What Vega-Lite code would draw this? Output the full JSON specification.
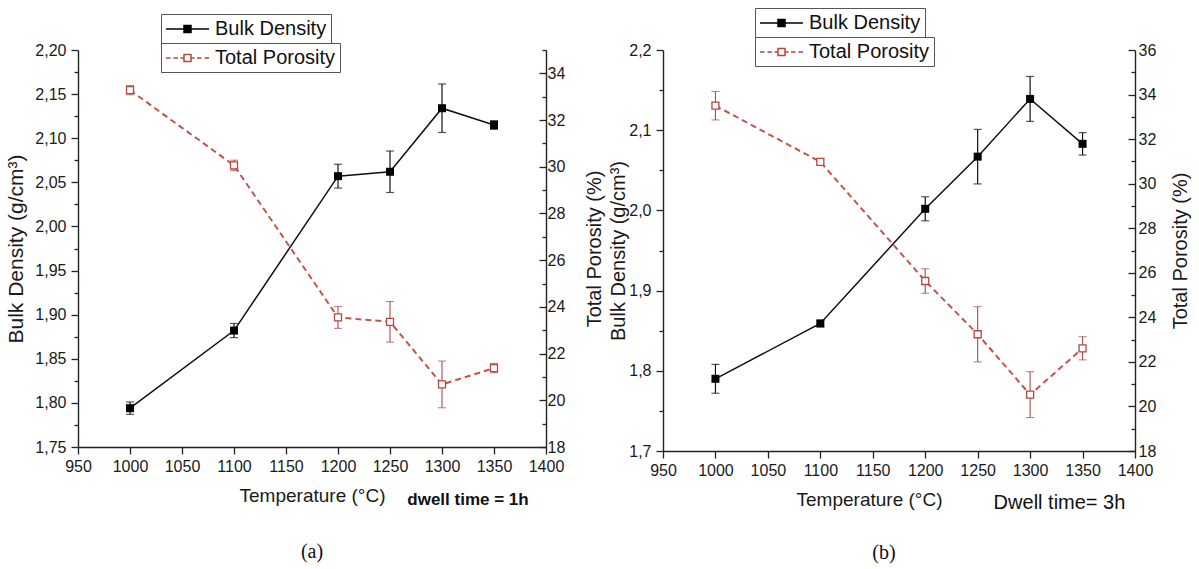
{
  "$schema": "https://vega.github.io/schema/vega-lite/v6.json",
  "padding": {"left": 5, "top": 7, "right": 3, "bottom": 5},
  "background": "white",
  "spacing": 3,
  "config": {
    "view": {"stroke": null},
    "axis": {"grid": false, "domainColor": "#222", "domainWidth": 1.4, "tickColor": "#222", "tickWidth": 1.3, "labelFont": "Liberation Sans", "titleFont": "Liberation Sans", "titleFontWeight": "normal", "labelColor": "#1a1a1a", "titleColor": "#1a1a1a", "labelOverlap": false, "labelBound": false, "labelFlush": false},
    "legend": {"labelFont": "Liberation Sans", "labelColor": "#111"}
  },
  "datasets": {
    "a": [
      {"T": 1000, "bd": 1.794, "bdErr": 0.007, "tp": 33.28, "tpErr": 0.2},
      {"T": 1100, "bd": 1.882, "bdErr": 0.008, "tp": 30.06, "tpErr": 0.22},
      {"T": 1200, "bd": 2.057, "bdErr": 0.0135, "tp": 23.55, "tpErr": 0.47},
      {"T": 1250, "bd": 2.062, "bdErr": 0.0235, "tp": 23.36, "tpErr": 0.87},
      {"T": 1300, "bd": 2.134, "bdErr": 0.0275, "tp": 20.68, "tpErr": 1.0},
      {"T": 1350, "bd": 2.115, "bdErr": 0.005, "tp": 21.38, "tpErr": 0.2}
    ],
    "b": [
      {"T": 1000, "bd": 1.79, "bdErr": 0.018, "tp": 33.5, "tpErr": 0.64},
      {"T": 1100, "bd": 1.859, "bdErr": 0.004, "tp": 30.98, "tpErr": 0.15},
      {"T": 1200, "bd": 2.002, "bdErr": 0.015, "tp": 25.63, "tpErr": 0.55},
      {"T": 1250, "bd": 2.067, "bdErr": 0.034, "tp": 23.24, "tpErr": 1.24},
      {"T": 1300, "bd": 2.139, "bdErr": 0.028, "tp": 20.53, "tpErr": 1.03},
      {"T": 1350, "bd": 2.083, "bdErr": 0.014, "tp": 22.61, "tpErr": 0.52}
    ],
    "noteA": [{"note": "dwell time = 1h"}],
    "noteB": [{"note": "Dwell time= 3h"}]
  },
  "hconcat": [
    {
      "width": 468,
      "height": 397,
      "data": {"name": "a"},
      "title": {"text": "(a)", "orient": "bottom", "frame": "group", "anchor": "middle", "font": "Liberation Serif", "fontSize": 20, "fontWeight": "normal", "color": "#111", "offset": 34},
      "layer": [
        {
          "encoding": {
            "x": {"field": "T", "type": "quantitative", "scale": {"domain": [950, 1400], "nice": false, "zero": false},
              "axis": {"values": [950,975,1000,1025,1050,1075,1100,1125,1150,1175,1200,1225,1250,1275,1300,1325,1350,1375,1400], "format": "d",
                "labelExpr": "datum.value % 50 == 0 ? datum.label : ''",
                "tickSize": {"condition": {"test": "datum.value % 50 == 0", "value": 7}, "value": 4},
                "labelFontSize": 16, "labelPadding": 4, "title": "Temperature (°C)", "titleFontSize": 19, "titlePadding": 12}},
            "y": {"field": "bd", "type": "quantitative", "scale": {"domain": [1.75, 2.2], "nice": false, "zero": false},
              "axis": {"values": [1.75,1.775,1.8,1.825,1.85,1.875,1.9,1.925,1.95,1.975,2.0,2.025,2.05,2.075,2.1,2.125,2.15,2.175,2.2],
                "labelExpr": "round(datum.value*1000) % 50 == 0 ? replace(format(datum.value, '.2f'), '.', ',') : ''",
                "tickSize": {"condition": {"test": "round(datum.value*1000) % 50 == 0", "value": 7}, "value": 4},
                "labelFontSize": 16, "labelPadding": 5, "title": "Bulk Density (g/cm³)", "titleFontSize": 21, "titlePadding": 8}}
          },
          "layer": [
            {"mark": {"type": "errorbar", "color": "#111", "thickness": 1.2, "ticks": {"size": 8, "thickness": 1.2}}, "encoding": {"yError": {"field": "bdErr"}}},
            {"mark": {"type": "line", "color": "#111", "strokeWidth": 1.5}},
            {"mark": {"type": "point", "shape": "square", "filled": true, "size": 64, "opacity": 1},
              "encoding": {"color": {"datum": "Bulk Density", "scale": {"range": ["#000000"]},
                "legend": {"title": null, "orient": "none", "legendX": 83, "legendY": -36, "symbolType": "M-1,0H0.8M1.5,0H3.3M0.8,-0.35H1.5V0.35H0.8Z", "symbolSize": 400, "symbolStrokeWidth": 1.5, "symbolStrokeColor": "#000000", "symbolFillColor": "#000000", "labelOffset": 28, "labelFontSize": 20, "strokeColor": "#555", "fillColor": "white", "padding": 4}}}}
          ]
        },
        {
          "encoding": {
            "x": {"field": "T", "type": "quantitative"},
            "y": {"field": "tp", "type": "quantitative", "scale": {"domain": [18, 35], "nice": false, "zero": false},
              "axis": {"orient": "right", "values": [18,19,20,21,22,23,24,25,26,27,28,29,30,31,32,33,34,35],
                "labelExpr": "datum.value % 2 == 0 ? datum.label : ''",
                "tickSize": {"condition": {"test": "datum.value % 2 == 0", "value": -7}, "value": -4},
                "labelFontSize": 16, "labelPadding": 8, "title": "Total Porosity (%)", "titleFontSize": 20, "titleAngle": 270, "titleBaseline": "top", "titlePadding": 20}}
          },
          "layer": [
            {"mark": {"type": "errorbar", "color": "#a4504c", "thickness": 1.1, "ticks": {"size": 8, "thickness": 1.1}}, "encoding": {"yError": {"field": "tpErr"}}},
            {"mark": {"type": "line", "color": "#c4524a", "strokeWidth": 2, "strokeDash": [6, 4]}},
            {"mark": {"type": "point", "shape": "square", "filled": false, "fill": "white", "fillOpacity": 1, "size": 49, "strokeWidth": 1.3, "opacity": 1},
              "encoding": {"color": {"datum": "Total Porosity", "scale": {"range": ["#b5473f"]},
                "legend": {"title": null, "orient": "none", "legendX": 83, "legendY": -7, "symbolType": "M-1,0H-0.55M-0.25,0H0.2M0.45,0H0.8M0.8,-0.35H1.5V0.35H0.8ZM1.5,0H1.85M2.1,0H2.55M2.85,0H3.3", "symbolSize": 400, "symbolStrokeWidth": 1.5, "symbolStrokeColor": "#b5473f", "labelOffset": 28, "labelFontSize": 20, "strokeColor": "#555", "fillColor": "white", "padding": 4}}}}
          ]
        },
        {
          "data": {"name": "noteA"},
          "mark": {"type": "text", "clip": false, "font": "Liberation Sans", "fontWeight": "bold", "fontSize": 17, "align": "center", "baseline": "middle", "color": "#111"},
          "encoding": {
            "x": {"datum": 1325, "type": "quantitative"},
            "y": {"datum": 1.6904, "type": "quantitative", "scale": {"domain": [1.75, 2.2], "nice": false, "zero": false}, "axis": null},
            "text": {"field": "note", "type": "nominal"}
          }
        }
      ],
      "resolve": {"scale": {"y": "independent", "color": "independent"}}
    },
    {
      "width": 472,
      "height": 401,
      "data": {"name": "b"},
      "title": {"text": "(b)", "orient": "bottom", "frame": "group", "anchor": "middle", "dx": -15, "font": "Liberation Serif", "fontSize": 20, "fontWeight": "normal", "color": "#111", "offset": 30},
      "layer": [
        {
          "encoding": {
            "x": {"field": "T", "type": "quantitative", "scale": {"domain": [950, 1400], "nice": false, "zero": false},
              "axis": {"values": [950,975,1000,1025,1050,1075,1100,1125,1150,1175,1200,1225,1250,1275,1300,1325,1350,1375,1400], "format": "d",
                "labelExpr": "datum.value % 50 == 0 ? datum.label : ''",
                "tickSize": {"condition": {"test": "datum.value % 50 == 0", "value": 7}, "value": 4},
                "labelFontSize": 16, "labelPadding": 4, "title": "Temperature (°C)", "titleFontSize": 19, "titlePadding": 12, "titleX": 206}},
            "y": {"field": "bd", "type": "quantitative", "scale": {"domain": [1.7, 2.2], "nice": false, "zero": false},
              "axis": {"values": [1.7,1.75,1.8,1.85,1.9,1.95,2.0,2.05,2.1,2.15,2.2],
                "labelExpr": "round(datum.value*100) % 10 == 0 ? replace(format(datum.value, '.1f'), '.', ',') : ''",
                "tickSize": {"condition": {"test": "round(datum.value*100) % 10 == 0", "value": 7}, "value": 4},
                "labelFontSize": 16, "labelPadding": 5, "title": "Bulk Density (g/cm³)", "titleFontSize": 20, "titlePadding": 0}}
          },
          "layer": [
            {"mark": {"type": "errorbar", "color": "#111", "thickness": 1.2, "ticks": {"size": 8, "thickness": 1.2}}, "encoding": {"yError": {"field": "bdErr"}}},
            {"mark": {"type": "line", "color": "#111", "strokeWidth": 1.5}},
            {"mark": {"type": "point", "shape": "square", "filled": true, "size": 64, "opacity": 1},
              "encoding": {"color": {"datum": "Bulk Density", "scale": {"range": ["#000000"]},
                "legend": {"title": null, "orient": "none", "legendX": 92, "legendY": -42, "symbolType": "M-1,0H0.8M1.5,0H3.3M0.8,-0.35H1.5V0.35H0.8Z", "symbolSize": 400, "symbolStrokeWidth": 1.5, "symbolStrokeColor": "#000000", "symbolFillColor": "#000000", "labelOffset": 28, "labelFontSize": 20, "strokeColor": "#555", "fillColor": "white", "padding": 4}}}}
          ]
        },
        {
          "encoding": {
            "x": {"field": "T", "type": "quantitative"},
            "y": {"field": "tp", "type": "quantitative", "scale": {"domain": [18, 36], "nice": false, "zero": false},
              "axis": {"orient": "right", "values": [18,19,20,21,22,23,24,25,26,27,28,29,30,31,32,33,34,35,36],
                "labelExpr": "datum.value % 2 == 0 ? datum.label : ''",
                "tickSize": {"condition": {"test": "datum.value % 2 == 0", "value": -7}, "value": -4},
                "labelFontSize": 16, "labelPadding": 10, "title": "Total Porosity (%)", "titleFontSize": 20, "titleAngle": 270, "titleBaseline": "top", "titlePadding": 15}}
          },
          "layer": [
            {"mark": {"type": "errorbar", "color": "#a4504c", "thickness": 1.1, "ticks": {"size": 8, "thickness": 1.1}}, "encoding": {"yError": {"field": "tpErr"}}},
            {"mark": {"type": "line", "color": "#c4524a", "strokeWidth": 2, "strokeDash": [6, 4]}},
            {"mark": {"type": "point", "shape": "square", "filled": false, "fill": "white", "fillOpacity": 1, "size": 49, "strokeWidth": 1.3, "opacity": 1},
              "encoding": {"color": {"datum": "Total Porosity", "scale": {"range": ["#b5473f"]},
                "legend": {"title": null, "orient": "none", "legendX": 92, "legendY": -13, "symbolType": "M-1,0H-0.55M-0.25,0H0.2M0.45,0H0.8M0.8,-0.35H1.5V0.35H0.8ZM1.5,0H1.85M2.1,0H2.55M2.85,0H3.3", "symbolSize": 400, "symbolStrokeWidth": 1.5, "symbolStrokeColor": "#b5473f", "labelOffset": 28, "labelFontSize": 20, "strokeColor": "#555", "fillColor": "white", "padding": 4}}}}
          ]
        },
        {
          "data": {"name": "noteB"},
          "mark": {"type": "text", "clip": false, "font": "Liberation Sans", "fontSize": 20, "align": "center", "baseline": "middle", "color": "#111"},
          "encoding": {
            "x": {"datum": 1328, "type": "quantitative"},
            "y": {"datum": 1.6355, "type": "quantitative", "scale": {"domain": [1.7, 2.2], "nice": false, "zero": false}, "axis": null},
            "text": {"field": "note", "type": "nominal"}
          }
        }
      ],
      "resolve": {"scale": {"y": "independent", "color": "independent"}}
    }
  ]
}
